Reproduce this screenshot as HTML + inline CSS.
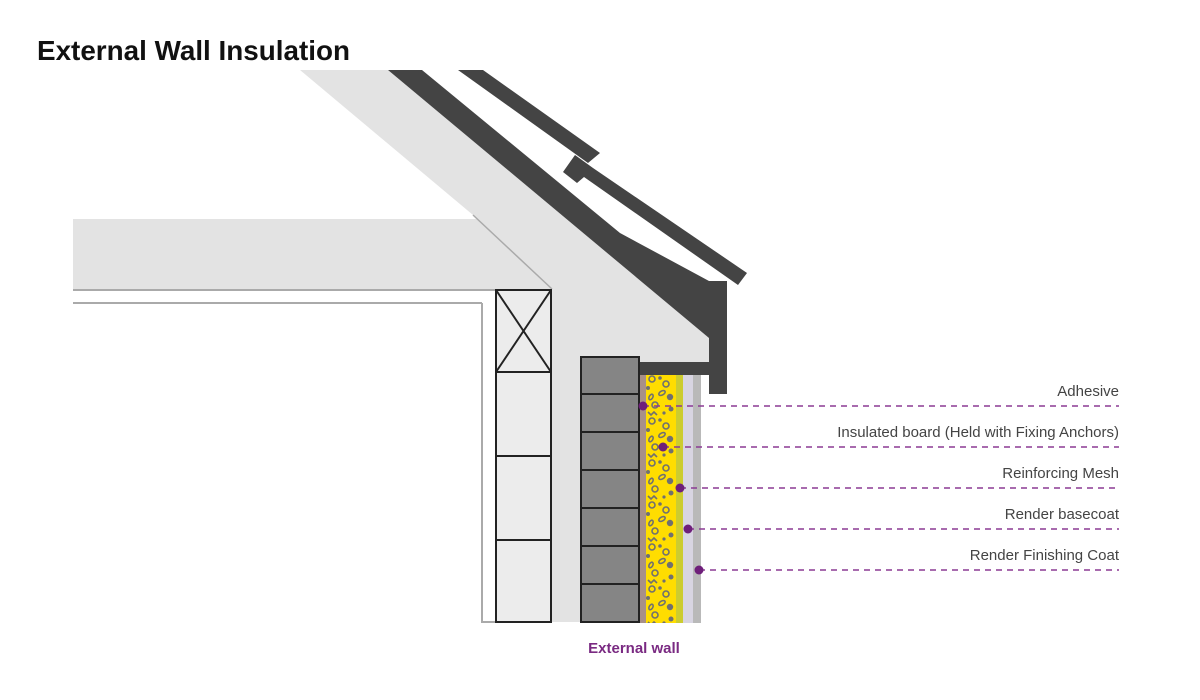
<!DOCTYPE html>
<html><head><meta charset="utf-8"><style>
html,body{margin:0;padding:0;background:#fff;}
svg{display:block;}
</style></head><body>
<svg width="1200" height="700" viewBox="0 0 1200 700" xmlns="http://www.w3.org/2000/svg">
<defs>
<pattern id="foam" x="646" y="375" width="30" height="42" patternUnits="userSpaceOnUse">
<rect width="30" height="42" fill="#ffdd00"/>
<g fill="none" stroke="#707070" stroke-width="1.6">
<circle cx="6" cy="4" r="3"/><circle cx="20" cy="9" r="3"/><circle cx="9" cy="30" r="3"/>
<ellipse cx="16" cy="18" rx="3.5" ry="2" transform="rotate(-30 16 18)"/>
<ellipse cx="5" cy="22" rx="3" ry="1.8" transform="rotate(-60 5 22)"/>
<path d="M2 37 l3 3 l3 -3 l3 3"/>
</g>
<g fill="#707070">
<circle cx="24" cy="22" r="3.2"/><circle cx="14" cy="3" r="1.8"/><circle cx="25" cy="34" r="2.5"/><circle cx="2" cy="13" r="2"/><circle cx="18" cy="38" r="1.6"/>
</g>
</pattern>
</defs>
<text x="37" y="60" font-family="Liberation Sans, sans-serif" font-weight="bold" font-size="28" fill="#111" textLength="313" lengthAdjust="spacingAndGlyphs">External Wall Insulation</text>

<rect x="73" y="219" width="480" height="70" fill="#e3e3e3"/>
<polygon points="300,70 388,70 709,338 709,362 639,362 639,356 580,356 580,622 552,622 552,289 473,215" fill="#e3e3e3"/>
<line x1="473" y1="215" x2="552" y2="289" stroke="#aaa" stroke-width="1.5"/>
<line x1="73" y1="290" x2="496" y2="290" stroke="#aaa" stroke-width="2"/>
<line x1="73" y1="303" x2="482" y2="303" stroke="#aaa" stroke-width="2"/>
<polyline points="482,303 482,622 496,622" fill="none" stroke="#aaa" stroke-width="2"/>
<rect x="496" y="290" width="55" height="332" fill="#ececec" stroke="#222" stroke-width="2"/>
<line x1="496" y1="372" x2="551" y2="372" stroke="#222" stroke-width="2"/>
<line x1="496" y1="456" x2="551" y2="456" stroke="#222" stroke-width="2"/>
<line x1="496" y1="540" x2="551" y2="540" stroke="#222" stroke-width="2"/>
<line x1="496" y1="290" x2="551" y2="372" stroke="#222" stroke-width="2"/>
<line x1="551" y1="290" x2="496" y2="372" stroke="#222" stroke-width="2"/>
<polygon points="388,70 422,70 620,233 709,281 709,338" fill="#444"/>
<polygon points="458,70 483,70 600,153 588,163" fill="#444"/>
<polygon points="575,155 593,168 747,273 738,285 584,177 577,183 563,172" fill="#444"/>
<rect x="709" y="281" width="18" height="113" fill="#444"/>
<rect x="639" y="362" width="88" height="13" fill="#444"/>
<g fill="#858585" stroke="#222" stroke-width="2">
<rect x="581" y="357" width="58" height="37"/>
<rect x="581" y="394" width="58" height="38"/>
<rect x="581" y="432" width="58" height="38"/>
<rect x="581" y="470" width="58" height="38"/>
<rect x="581" y="508" width="58" height="38"/>
<rect x="581" y="546" width="58" height="38"/>
<rect x="581" y="584" width="58" height="38"/>
</g>
<rect x="640" y="375" width="6" height="248" fill="#a89088"/>
<rect x="646" y="375" width="30" height="248" fill="url(#foam)"/>
<rect x="676" y="375" width="7" height="248" fill="#cccc30"/>
<rect x="683" y="375" width="10" height="248" fill="#d8d5e2"/>
<rect x="693" y="375" width="8" height="248" fill="#b9b9b9"/>

<g stroke="#8b3a94" stroke-width="1.6" stroke-dasharray="6,5">
<line x1="643" y1="406" x2="1119" y2="406"/>
<line x1="663" y1="447" x2="1119" y2="447"/>
<line x1="680" y1="488" x2="1119" y2="488"/>
<line x1="688" y1="529" x2="1119" y2="529"/>
<line x1="699" y1="570" x2="1119" y2="570"/>
</g>
<g fill="#6e1f7a">
<circle cx="643" cy="406" r="4.5"/><circle cx="663" cy="447" r="4.5"/><circle cx="680" cy="488" r="4.5"/><circle cx="688" cy="529" r="4.5"/><circle cx="699" cy="570" r="4.5"/>
</g>
<g font-family="Liberation Sans, sans-serif" font-size="15" fill="#444" text-anchor="end">
<text x="1119" y="396">Adhesive</text>
<text x="1119" y="437">Insulated board (Held with Fixing Anchors)</text>
<text x="1119" y="478">Reinforcing Mesh</text>
<text x="1119" y="519">Render basecoat</text>
<text x="1119" y="560">Render Finishing Coat</text>
</g>
<text x="634" y="653" font-family="Liberation Sans, sans-serif" font-size="15" font-weight="bold" fill="#7a2a82" text-anchor="middle">External wall</text>
</svg>
</body></html>
